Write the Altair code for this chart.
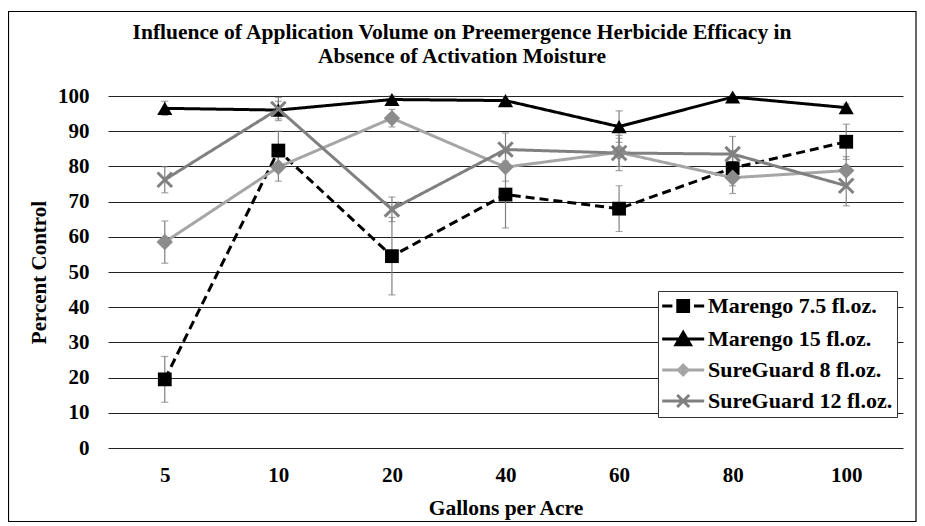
import altair as alt
import pandas as pd

gallons = ["5", "10", "20", "40", "60", "80", "100"]
series_names = ["Marengo 7.5 fl.oz.", "Marengo 15 fl.oz.", "SureGuard 8 fl.oz.", "SureGuard 12 fl.oz."]
title_lines = ["Influence of Application Volume on Preemergence Herbicide Efficacy in",
               "Absence of Activation Moisture"]
y_ticks = [0, 10, 20, 30, 40, 50, 60, 70, 80, 90, 100]

marengo_75 = [19.5, 84.5, 54.5, 72.0, 68.0, 79.5, 87.0]
marengo_75_err = [6.5, 5.5, 11.0, 9.5, 6.5, 5.0, 5.0]
marengo_15 = [96.5, 96.0, 99.0, 98.7, 91.3, 99.7, 96.7]
marengo_15_err = [2.0, 2.5, 1.0, 1.0, 4.5, 0.3, 1.0]
sureguard_8 = [58.5, 79.8, 93.7, 79.8, 84.0, 76.8, 78.8]
sureguard_8_err = [6.0, 4.0, 2.5, 4.0, 4.0, 4.5, 4.0]
sureguard_12 = [76.2, 96.3, 67.8, 84.8, 83.8, 83.5, 74.5]
sureguard_12_err = [3.7, 3.3, 3.5, 4.7, 5.0, 5.0, 5.7]

line_colors = ["#000000", "#000000", "#a6a6a6", "#808080"]
marker_colors = ["#000000", "#000000", "#8c8c8c", "#808080"]
dashes = [[9, 5], [1, 0], [1, 0], [1, 0]]

rows = []
for name, vals, errs in zip(series_names,
                            [marengo_75, marengo_15, sureguard_8, sureguard_12],
                            [marengo_75_err, marengo_15_err, sureguard_8_err, sureguard_12_err]):
    for g, v, e in zip(gallons, vals, errs):
        rows.append({"gpa": g, "series": name, "value": v, "lo": v - e, "hi": v + e})
df = pd.DataFrame(rows)

FONT = "Liberation Serif"

x_axis = alt.Axis(title="Gallons per Acre", labelAngle=0, domain=False, ticks=False,
                  tickSize=0, grid=False, labelPadding=16,
                  labelFont=FONT, labelFontSize=21, labelFontWeight="bold",
                  labelColor="#000000", titleFont=FONT, titleFontSize=21.5,
                  titleFontWeight="bold", titleColor="#000000",
                  titleY=60, titleBaseline="middle")
y_axis = alt.Axis(title="Percent Control", values=y_ticks, labelOverlap=False,
                  domain=False, ticks=False, tickSize=0, grid=True,
                  gridColor="#222222", gridWidth=1.2, gridOpacity=1,
                  labelPadding=19, labelFont=FONT, labelFontSize=21,
                  labelFontWeight="bold", labelColor="#000000",
                  titleFont=FONT, titleFontSize=21, titleFontWeight="bold",
                  titleColor="#000000", titleX=-69, titleY=176,
                  titleBaseline="middle")
y_scale = alt.Scale(domain=[0, 100], nice=False)


def X():
    return alt.X("gpa:O", sort=gallons, scale=alt.Scale(type="point", padding=0.5),
                 axis=x_axis, title="Gallons per Acre")


def Y(field):
    return alt.Y(field, scale=y_scale, axis=y_axis, title="Percent Control")


base = alt.Chart(df)

lines = base.mark_line(strokeWidth=3).encode(
    x=X(), y=Y("value:Q"),
    color=alt.Color("series:N", scale=alt.Scale(domain=series_names, range=line_colors), legend=None),
    strokeDash=alt.StrokeDash("series:N", scale=alt.Scale(domain=series_names, range=dashes), legend=None),
    detail="series:N",
)

err_rule = base.mark_rule(color="#808080", strokeWidth=1.2).encode(
    x=X(), y=Y("lo:Q"), y2="hi:Q")
err_cap_lo = base.mark_tick(color="#808080", thickness=1.2, size=7, orient="horizontal").encode(
    x=X(), y=Y("lo:Q"))
err_cap_hi = base.mark_tick(color="#808080", thickness=1.2, size=7, orient="horizontal").encode(
    x=X(), y=Y("hi:Q"))

filled_pts = base.transform_filter(alt.datum.series != series_names[3]).mark_point(
    filled=True, opacity=1).encode(
    x=X(), y=Y("value:Q"),
    color=alt.Color("series:N", scale=alt.Scale(domain=series_names[:3], range=marker_colors[:3]), legend=None),
    shape=alt.Shape("series:N", scale=alt.Scale(domain=series_names[:3], range=["square", "triangle-up", "diamond"]), legend=None),
    size=alt.Size("series:N", scale=alt.Scale(domain=series_names[:3], range=[190, 270, 180]), legend=None),
)

x_pts = base.transform_filter(alt.datum.series == series_names[3]).mark_point(
    shape="M-1,-1L1,1M-1,1L1,-1", filled=False, strokeWidth=3, size=210,
    color=marker_colors[3], opacity=1).encode(
    x=X(), y=Y("value:Q"))

legend_paths = [
    "M-1.8,0L-0.1,0M3.5,0L5.2,0M0.8,-0.9L2.6,-0.9L2.6,0.9L0.8,0.9Z",
    "M-1.8,0L5.2,0M0.5,0.95L1.7,-1.1L2.9,0.95Z",
    "M-1.8,0L5.2,0M1.7,-0.8L2.5,0L1.7,0.8L0.9,0Z",
    "M-1.8,0L5.2,0M0.7,-1L2.7,1M0.7,1L2.7,-1",
]
legend_layer = base.transform_filter("false").mark_point(filled=True, opacity=1).encode(
    x=X(), y=Y("value:Q"),
    shape=alt.Shape("series:N", scale=alt.Scale(domain=series_names, range=legend_paths),
                    legend=alt.Legend(title=None)),
    fill=alt.Fill("series:N", scale=alt.Scale(domain=series_names, range=marker_colors),
                  legend=alt.Legend(title=None)),
    stroke=alt.Stroke("series:N", scale=alt.Scale(domain=series_names, range=line_colors),
                      legend=alt.Legend(title=None)),
)

deco = alt.Chart(pd.DataFrame({"t": [title_lines]}))
border = deco.mark_rect(fill=None, stroke="#000000", strokeWidth=1.2).encode(
    x=alt.value(-99.5), x2=alt.value(808), y=alt.value(-84.5), y2=alt.value(425.5))
title_text = deco.mark_text(font=FONT, fontSize=21.5, fontWeight="bold", color="#000000",
                            align="center", baseline="middle", lineHeight=24).encode(
    text="t", x=alt.value(354), y=alt.value(-63))

chart = alt.layer(border, title_text, lines, err_rule, err_cap_lo, err_cap_hi, filled_pts, x_pts,
                  legend_layer).resolve_scale(
    color="independent", shape="independent", size="independent",
    fill="independent", stroke="independent", strokeDash="independent",
).properties(
    width=795, height=352,
    background="#ffffff",
    autosize=alt.AutoSizeParams(type="none"),
    padding={"left": 100, "top": 88, "right": 14, "bottom": 78},
).configure_view(strokeWidth=0, stroke=None).configure_legend(
    orient="none", legendX=550, legendY=195, padding=4,
    strokeColor="#333333", fillColor="#ffffff",
    symbolSize=144, symbolStrokeWidth=3, symbolOpacity=1,
    labelOffset=24, labelFont=FONT, labelFontSize=22, labelFontWeight="bold",
    labelColor="#000000", rowPadding=8, labelLimit=400,
)

chart.save("out.html", embed_options={"renderer": "svg", "actions": False})
